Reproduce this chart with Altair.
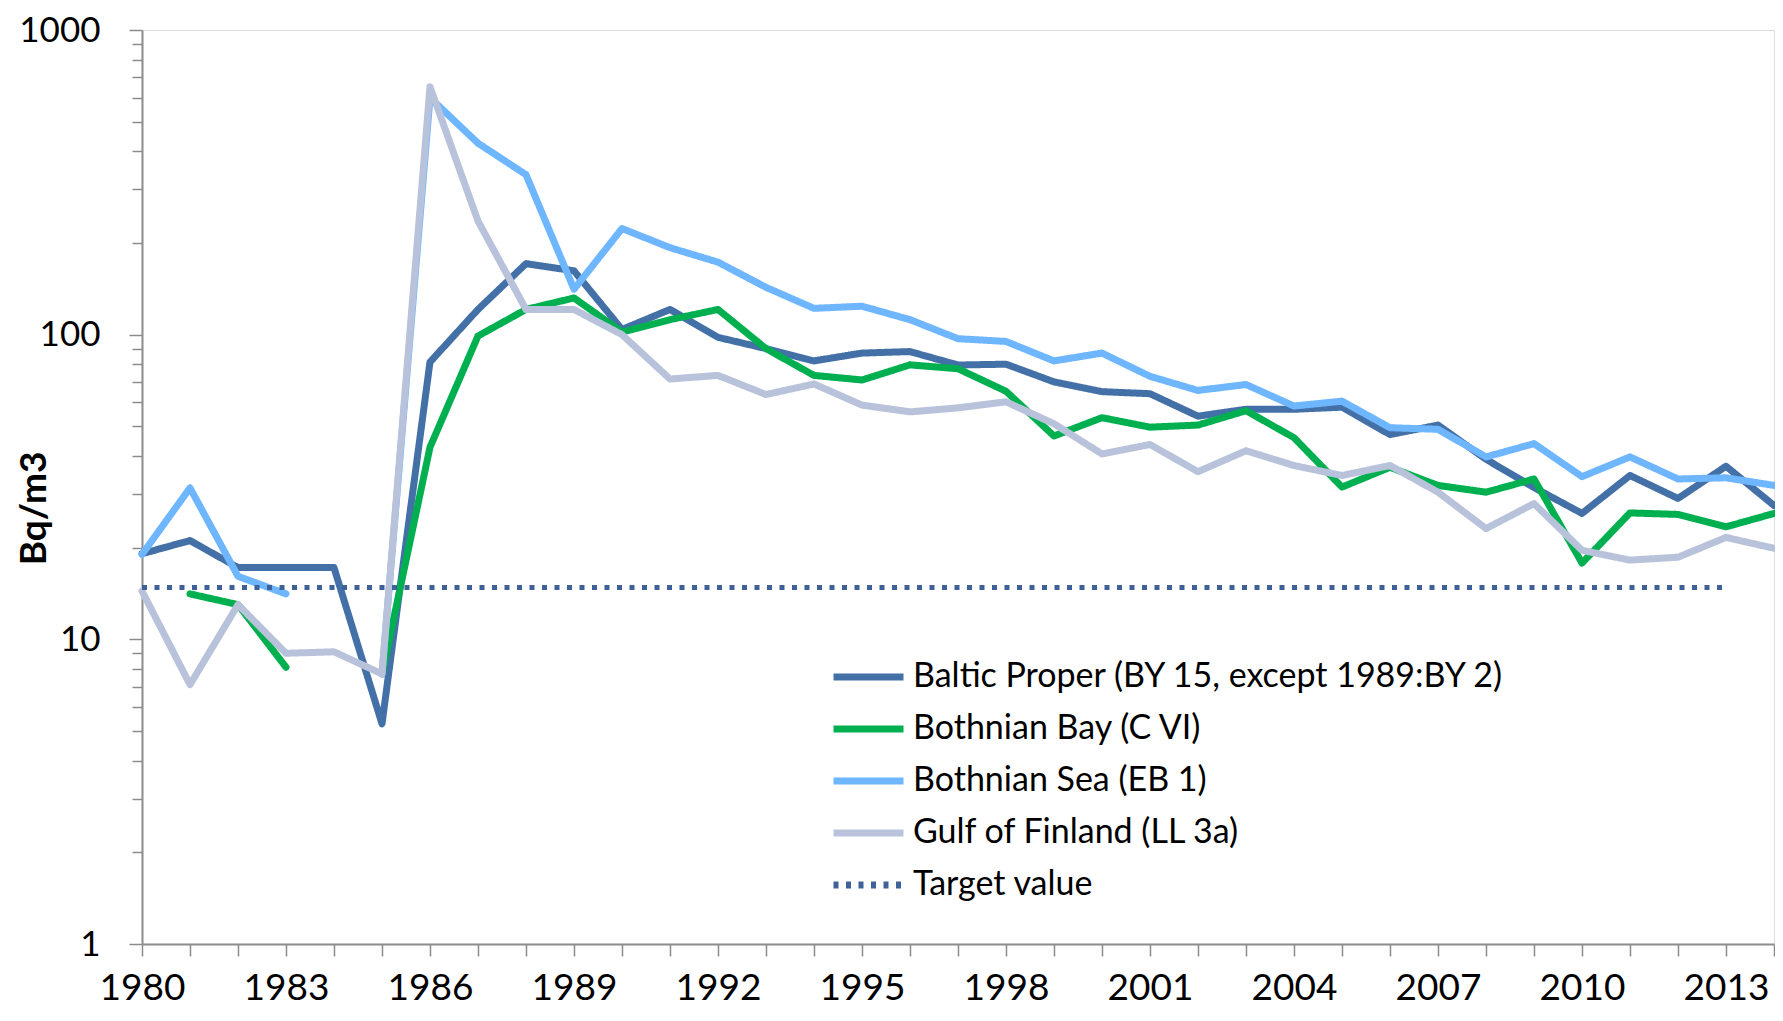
import altair as alt
import pandas as pd

years = list(range(1980, 2015))

baltic = [19.1, 21.1, 17.2, 17.2, 17.2, 5.28, 81.3, 121, 171, 162, 104, 121, 98, 90, 82,
          87, 88, 79.5, 80, 70, 65, 64, 54, 56.9, 56.9, 57.8, 47, 50.5, 39, 31.5, 25.9,
          34.5, 29, 37, 27.5]
bothnian_bay = [None, 14.1, 13.0, 8.1, None, 7.7, 42.7, 99, 121, 132, 102, 112, 121, 90,
                73.5, 71, 79.6, 77.3, 65.2, 46.5, 53.4, 49.7, 50.5, 56.3, 45.9, 31.6, 36.7,
                32, 30.4, 33.6, 17.8, 26, 25.7, 23.4, 25.9]
bothnian_sea = [19.0, 31.4, 16.1, 14.1, None, 7.7, 600, 425, 335, 141, 223, 193, 173, 143,
                122, 124, 112, 97, 95, 82, 87, 73, 65.6, 68.6, 58.3, 60.5, 49.5, 48.9, 39.7,
                43.9, 34.2, 39.7, 33.6, 33.9, 32]
gulf = [14.4, 7.1, 13.0, 9.0, 9.1, 7.7, 651, 236, 121, 121, 100, 71.5, 73.5, 63.6, 68.9,
        58.7, 55.8, 57.5, 60.2, 51, 40.6, 43.6, 35.5, 41.6, 37.2, 34.5, 37.2, 30.4, 23.1,
        27.9, 19.6, 18.2, 18.6, 21.6, 19.9]
target = [14.8] * 34 + [None]

names = ["Baltic Proper (BY 15, except 1989:BY 2)", "Bothnian Bay (C VI)",
         "Bothnian Sea (EB 1)", "Gulf of Finland (LL 3a)", "Target value"]
colors = ["#4470A8", "#00B050", "#6EB6FF", "#B8C3DB", "#3F6199"]
dashes = [[1, 0], [1, 0], [1, 0], [1, 0], [5, 7.5]]

rows = []
for name, vals in zip(names, [baltic, bothnian_bay, bothnian_sea, gulf, target]):
    seg = 0
    prev_none = True
    for y, v in zip(years, vals):
        if v is None:
            prev_none = True
            continue
        if prev_none:
            seg += 1
            prev_none = False
        rows.append({"year": y, "value": v, "series": name, "seg": f"{name}-{seg}"})
df = pd.DataFrame(rows)

FONT = "Lato"
y_ticks = [m * d for d in [1, 10, 100] for m in range(1, 10)] + [1000]

legend_kw = dict(title=None, orient="none", legendX=688, legendY=621,
                 symbolType="stroke", symbolSize=4900, symbolStrokeWidth=7,
                 labelFont=FONT, labelFontSize=34, labelColor="#000000",
                 rowPadding=0, clipHeight=52, labelOffset=6, labelLimit=800)

enc = dict(
    x=alt.X("year:Q",
            scale=alt.Scale(domain=[1980, 2014], nice=False, zero=False),
            axis=alt.Axis(title=None, values=years, format="d",
                          labelExpr="(datum.value - 1980) % 3 == 0 ? datum.label : ''",
                          labelOverlap=False, labelFlush=False, labelFont=FONT,
                          labelFontSize=37, labelColor="#000000",
                          labelBaseline="alphabetic", labelPadding=43,
                          tickSize=12, tickColor="#8C8C8C", tickWidth=1.5,
                          domainColor="#8C8C8C", domainWidth=2, grid=False)),
    y=alt.Y("value:Q",
            scale=alt.Scale(type="log", domain=[1, 1000], nice=False),
            axis=alt.Axis(title="Bq/m3", values=y_ticks, format="d",
                          labelExpr="indexof([1,10,100,1000], datum.value) >= 0 ? datum.label : ''",
                          labelOverlap=False, labelFont=FONT, labelFontSize=35,
                          labelColor="#000000", labelPadding=29,
                          tickSize=alt.ConditionalAxisNumber(
                              condition={"test": "indexof([1,10,100,1000], datum.value) >= 0", "value": 13},
                              value=10),
                          tickColor="#8C8C8C", tickWidth=1.5,
                          domainColor="#8C8C8C", domainWidth=2, grid=False,
                          titleFont=FONT, titleFontSize=37, titleFontWeight="bold",
                          titleColor="#000000", titleAngle=270, titleX=-97, titleY=478,
                          titleAlign="center", titleBaseline="alphabetic")),
    color=alt.Color("series:N", scale=alt.Scale(domain=names, range=colors),
                    legend=alt.Legend(**legend_kw)),
    strokeDash=alt.StrokeDash("series:N", scale=alt.Scale(domain=names, range=dashes),
                              legend=alt.Legend(**legend_kw)),
    detail="seg:N",
)

layers = []
for n in names:
    if n == "Target value":
        mk = alt.Chart(df).mark_line(strokeWidth=5, strokeCap="butt")
    else:
        mk = alt.Chart(df).mark_line(strokeWidth=7, strokeCap="round", strokeJoin="round")
    layers.append(mk.encode(**enc).transform_filter(alt.datum.series == n))

chart = alt.layer(*layers).properties(
    width=1632, height=914,
    autosize=alt.AutoSizeParams(type="none"),
    padding={"left": 134, "top": 22, "right": 1, "bottom": 64},
).configure_view(stroke=None).configure(background="#ffffff")

chart.save("out.html", embed_options={"renderer": "svg", "actions": False})
